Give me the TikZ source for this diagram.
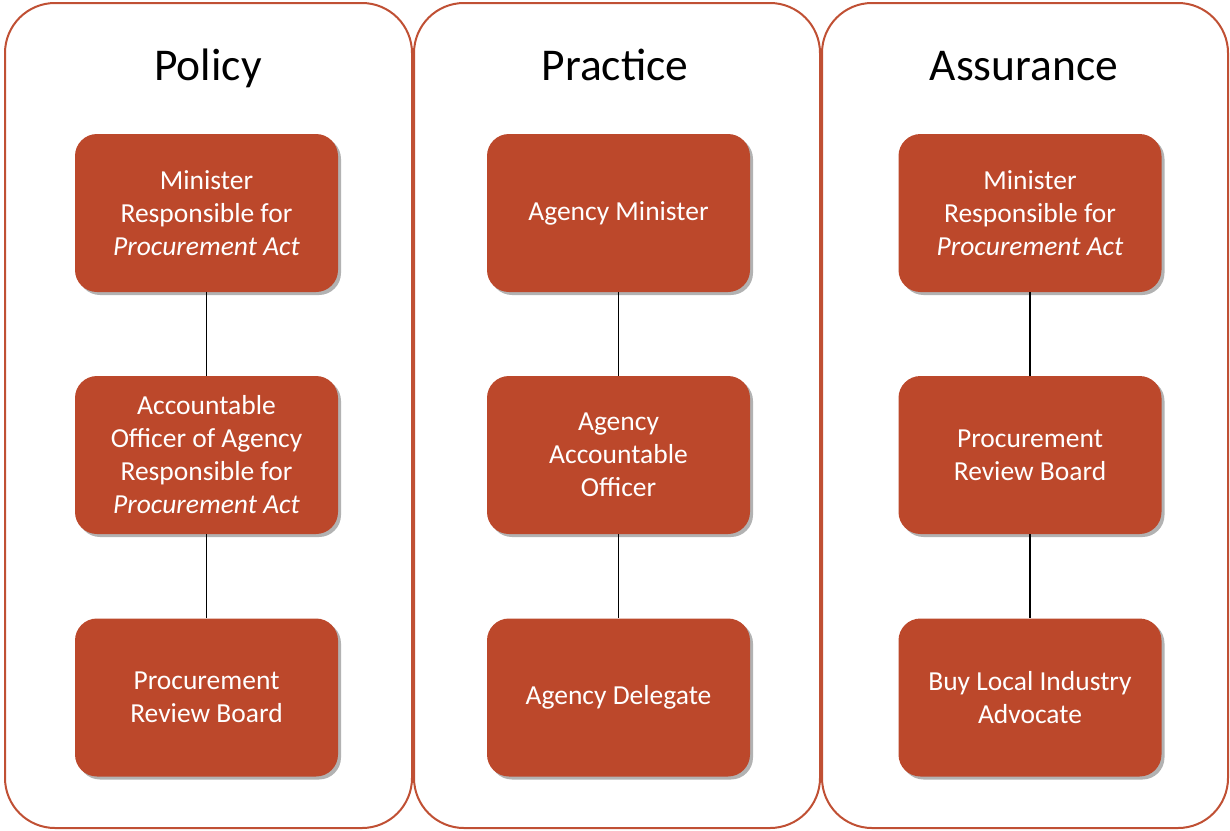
\documentclass[tikz,border=0pt]{standalone}
\usepackage{fontspec}
\setmainfont{Carlito}
\usetikzlibrary{shadows}
\definecolor{brick}{RGB}{188,72,43}
\definecolor{panelline}{RGB}{192,80,52}
\tikzset{
  panel/.style={draw=panelline, line width=2pt, rounded corners=50pt, fill=white},
  rolebox/.style={rectangle, rounded corners=22pt, fill=brick, text=white,
    minimum width=263pt, minimum height=158pt, align=center, inner sep=0pt,
    font=\fontsize{27.5}{33}\selectfont,
    drop shadow={shadow xshift=3pt, shadow yshift=-3pt, opacity=0.3, fill=black}},
  title/.style={font=\fontsize{45.5}{54}\selectfont, text=black, anchor=base, inner sep=0pt},
  link/.style={draw=black, line width=1.8pt}
}
\begin{document}
\begin{tikzpicture}[x=1pt,y=-1pt]
\useasboundingbox (0,0) rectangle (1230,830);
% panels
\draw[panel] (5,3) rectangle (412,828);
\draw[panel] (414,3) rectangle (820,828);
\draw[panel] (822,3) rectangle (1228,828);
% titles
\node[title] (tpol) at (208,80) {Policy};
\node[title] (tpra) at (615,80) {Practice};
\node[title] (tass) at (1024,80) {Assurance};
% Policy column
\node[rolebox] (p1) at (206.5,213) {Minister\\Responsible for\\\textit{Procurement Act}};
\node[rolebox] (p2) at (206.5,455) {Accountable\\Officer of Agency\\Responsible for\\\textit{Procurement Act}};
\node[rolebox] (p3) at (206.5,697.5) {Procurement\\Review Board};
% Practice column
\node[rolebox] (r1) at (618.5,213) {Agency Minister};
\node[rolebox] (r2) at (618.5,455) {Agency\\Accountable\\Officer};
\node[rolebox] (r3) at (618.5,697.5) {Agency Delegate};
% Assurance column
\node[rolebox] (a1) at (1030,213) {Minister\\Responsible for\\\textit{Procurement Act}};
\node[rolebox] (a2) at (1030,455) {Procurement\\Review Board};
\node[rolebox] (a3) at (1030,697.5) {Buy Local Industry\\Advocate};
% connectors
\draw[link] (p1.south) -- (p2.north);
\draw[link] (p2.south) -- (p3.north);
\draw[link] (r1.south) -- (r2.north);
\draw[link] (r2.south) -- (r3.north);
\draw[link] (a1.south) -- (a2.north);
\draw[link] (a2.south) -- (a3.north);
\end{tikzpicture}
\end{document}
